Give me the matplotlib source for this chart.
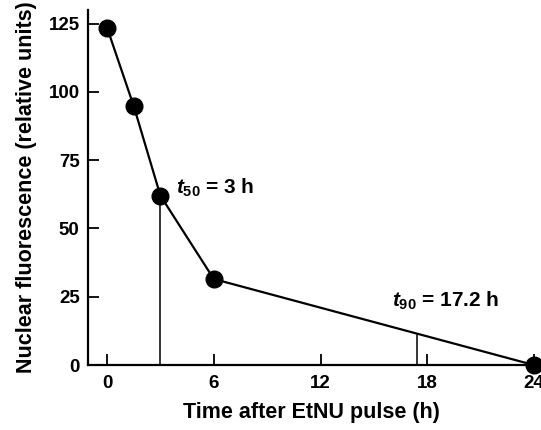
import matplotlib
matplotlib.use("Agg")
import matplotlib.pyplot as plt

# data
time_h = [0, 1.5, 3, 6, 24]
fluorescence = [123.5, 94.8, 62.0, 31.5, 0.0]
t50 = 3.0
t90 = 17.4
x_ticks = [0, 6, 12, 18, 24]
y_ticks = [0, 25, 50, 75, 100, 125]

plt.rcParams["font.family"] = ["Liberation Sans", "DejaVu Sans"]
plt.rcParams["font.weight"] = "bold"
plt.rcParams["mathtext.fontset"] = "custom"
plt.rcParams["mathtext.it"] = "Liberation Sans:italic:bold"
plt.rcParams["mathtext.rm"] = "Liberation Sans:bold"

fig = plt.figure(figsize=(5.41, 4.30), dpi=100)
ax = fig.add_axes([0.1627, 0.151, 0.8243, 0.826])

ax.plot(time_h, fluorescence, color="black", lw=1.6, marker="o",
        markersize=12, markerfacecolor="black", markeredgecolor="black",
        clip_on=False, zorder=3)

# drop lines for t50 and t90
y50 = fluorescence[time_h.index(t50)]
ax.plot([t50, t50], [0, y50], color="black", lw=1.1)
y90 = fluorescence[3] * (time_h[4] - t90) / (time_h[4] - time_h[3])
ax.plot([t90, t90], [0, y90], color="black", lw=1.1)

ax.text(3.9, 65, r"$t_{50}$ = 3 h", fontsize=15, fontweight="bold",
        va="center", ha="left")
ax.text(16.0, 23.5, r"$t_{90}$ = 17.2 h", fontsize=15, fontweight="bold",
        va="center", ha="left")

ax.set_xlim(-1.07, 24)
ax.set_ylim(0, 130)
ax.set_xticks(x_ticks)
ax.set_yticks(y_ticks)
ax.tick_params(direction="in", length=8, width=1.3, labelsize=13.5, pad=6)
ax.tick_params(axis="x", pad=7)

for side in ["top", "right"]:
    ax.spines[side].set_visible(False)
for side in ["left", "bottom"]:
    ax.spines[side].set_linewidth(1.6)

ax.set_xlabel("Time after EtNU pulse (h)", fontsize=15.5, fontweight="bold",
              labelpad=7)
ax.set_ylabel("Nuclear fluorescence (relative units)", fontsize=15.5,
              fontweight="bold", labelpad=8)

fig.savefig("out.png", dpi=100)
